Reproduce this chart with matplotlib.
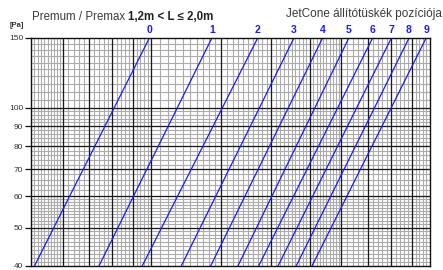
import matplotlib
matplotlib.use('Agg')
import matplotlib.pyplot as plt
from matplotlib.ticker import FixedLocator, FixedFormatter, NullLocator
import numpy as np

# ---- data ----
positions = ['0', '1', '2', '3', '4', '5', '6', '7', '8', '9']
flow_at_40pa = [51, 74, 95, 119, 141, 165, 186, 208, 231, 253]
flow_at_150pa = [99, 142, 185, 228, 269, 313, 359, 400, 443, 489]
pressure_low = 40
pressure_high = 150
y_tick_values = [40, 50, 60, 70, 80, 90, 100, 150]
y_tick_labels = ['40', '50', '60', '70', '80', '90', '100', '150']

W, H = 443, 270
fig = plt.figure(figsize=(W / 100, H / 100), dpi=100)
ax = fig.add_axes([31 / W, 4 / H, 399 / W, 228 / H])
ax.set_xscale('log')
ax.set_yscale('log')
ax.set_xlim(50, 500)
ax.set_ylim(40, 150)

# grid (log paper)
minor_x = np.concatenate([np.arange(50, 60, 1), np.arange(60, 100, 2),
                          np.arange(100, 300, 5), np.arange(300, 500, 10)])
major_x = [60, 70, 80, 90, 100, 150, 200, 250, 300, 350, 400, 450]
minor_y = np.concatenate([np.arange(40, 60, 1), np.arange(60, 100, 2),
                          np.arange(100, 150, 5)])
major_y = [50, 60, 70, 80, 90, 100]

for v in minor_x:
    ax.axvline(v, color='#ababab', lw=0.8, zorder=1)
for v in minor_y:
    ax.axhline(v, color='#ababab', lw=0.8, zorder=1)
for v in major_x:
    ax.axvline(v, color='#1a1a1a', lw=0.9, zorder=2)
for v in major_y:
    ax.axhline(v, color='#1a1a1a', lw=0.9, zorder=2)

# setting lines
for lab, q1, q2 in zip(positions, flow_at_40pa, flow_at_150pa):
    ax.plot([q1, q2], [pressure_low, pressure_high], color='#1a1aff', lw=0.9,
            zorder=3, clip_on=True)
    ax.annotate(lab, xy=(q2, pressure_high), xytext=(0, 2.5), textcoords='offset points',
                ha='center', va='bottom', color='#1a1aff', fontsize=7.5,
                fontweight='bold', family='Liberation Sans')

for s in ax.spines.values():
    s.set_color('#111111')
    s.set_linewidth(1.0)
    s.set_zorder(4)

ax.xaxis.set_major_locator(NullLocator())
ax.xaxis.set_minor_locator(NullLocator())
ax.yaxis.set_major_locator(FixedLocator(y_tick_values))
ax.yaxis.set_major_formatter(FixedFormatter(y_tick_labels))
ax.yaxis.set_minor_locator(NullLocator())
ax.tick_params(axis='y', length=4, width=0.9, color='#111111', pad=1.5,
               labelsize=6, labelcolor='#333333')
for t in ax.get_yticklabels():
    t.set_family('Liberation Sans')

# texts
fig.text(10 / W, 1 - 27 / H, '[Pa]', fontsize=5.5, fontweight='bold',
         color='#333333', family='Liberation Sans', va='baseline')
t1 = fig.text(32 / W, 1 - 20 / H, 'Premum / Premax ', fontsize=8.3,
              color='#3a3a3a', family='Liberation Sans', va='baseline')
fig.canvas.draw()
bb = t1.get_window_extent(fig.canvas.get_renderer())
fig.text(bb.x1 / W, 1 - 20 / H, '1,2m < L ≤ 2,0m', va='baseline', ha='left',
         fontsize=8.3, fontweight='bold', color='#222222', family='Liberation Sans')
fig.text(442 / W, 1 - 17 / H, 'JetCone állítótüskék pozíciója', fontsize=8.5,
         color='#3a3a3a', family='Liberation Sans', ha='right', va='baseline')

fig.savefig('out.png', dpi=100)
